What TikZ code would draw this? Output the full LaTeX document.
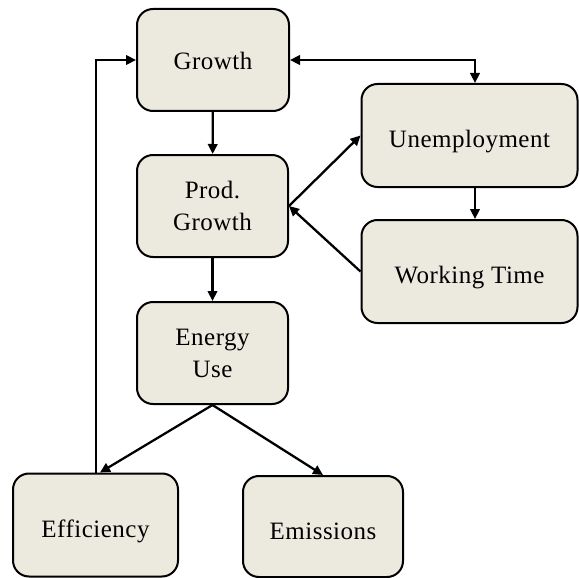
\documentclass[tikz,border=0pt]{standalone}
\usepackage{fontspec}
\setmainfont[LetterSpace=2]{Liberation Serif}
\usetikzlibrary{arrows.meta}
\definecolor{boxfill}{RGB}{236,233,223}
\begin{document}
\begin{tikzpicture}[x=1pt,y=-1pt,
  box/.style={draw=black,line width=2pt,fill=boxfill,rounded corners=16pt,
    align=center,inner sep=0pt,font=\fontsize{25}{32}\selectfont},
  conn/.style={line width=2.3pt,-{Triangle[length=10pt,width=9.5pt]}}]
\useasboundingbox (0,0) rectangle (579,578);
\node[box,minimum width=152pt,minimum height=102pt,text height=19pt,text depth=0pt] (G) at (213,60) {Growth};
\node[box,minimum width=151pt,minimum height=102pt] (P) at (212.5,206) {Prod.\\Growth};
\node[box,minimum width=151pt,minimum height=102pt] (E) at (212.5,353) {Energy\\Use};
\node[box,minimum width=216pt,minimum height=103pt,text height=23pt,text depth=0pt] (U) at (469.5,135.5) {Unemployment};
\node[box,minimum width=216pt,minimum height=103pt,text height=23pt,text depth=0pt] (W) at (469.5,271.5) {Working Time};
\node[box,minimum width=165pt,minimum height=103pt,text height=25pt,text depth=0pt] (F) at (95.5,525) {Efficiency};
\node[box,minimum width=160pt,minimum height=101pt,text height=25pt,text depth=0pt] (M) at (323,526.5) {Emissions};
\coordinate (Ut) at ([xshift=5.5pt]U.north);
\coordinate (Wt) at ([xshift=5.5pt]W.north);
\coordinate (Ft) at ([xshift=4.5pt]F.north);
\coordinate (Fl) at ([xshift=0.5pt]F.north);
\draw[line width=2.3pt,{Triangle[length=10pt,width=9.5pt]}-{Triangle[length=10pt,width=9.5pt]}] (G.east) -- (G.east -| Ut) -- (Ut);
\draw[conn] (G) -- (P);
\draw[conn] (P) -- (E);
\draw[conn] (P.east) -- (U.west);
\draw[conn] (W.west) -- (P.east);
\draw[conn] (U.south -| Wt) -- (Wt);
\draw[conn] (E.south) -- (Ft);
\draw[conn] (E.south) -- (M.north);
\draw[line width=2.3pt,-{Triangle[length=10pt,width=9.5pt]}] (Fl) -- (Fl |- G.west) -- (G.west);
\end{tikzpicture}
\end{document}
